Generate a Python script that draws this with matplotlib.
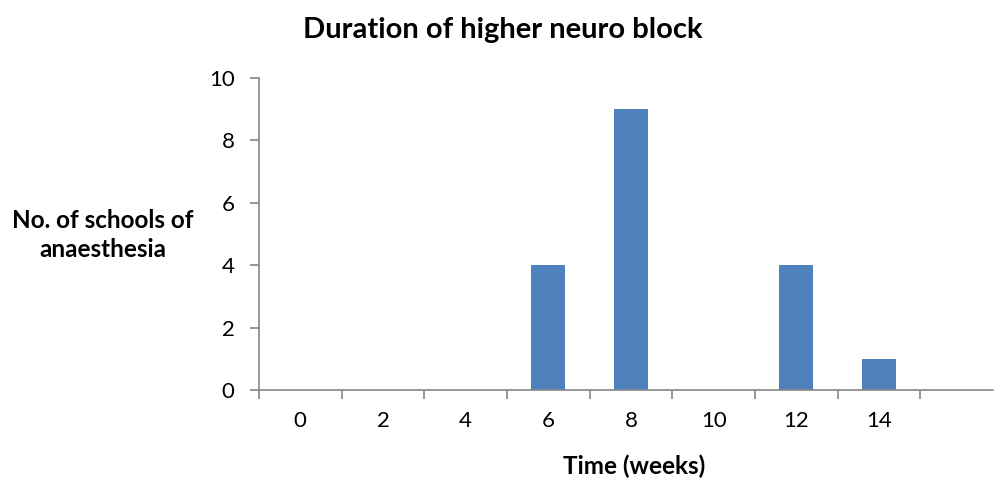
import matplotlib.pyplot as plt
import numpy as np

plt.rcParams['font.family'] = ['Lato', 'DejaVu Sans']

weeks = ['0', '2', '4', '6', '8', '10', '12', '14']
schools = [0, 0, 0, 4, 9, 0, 4, 1]

bar_color = '#4F81BD'
axis_color = '#868686'

fig = plt.figure(figsize=(9.96, 4.82), dpi=100)
ax = fig.add_axes([0.260, 0.191, 0.737, 0.647])

x = np.arange(len(weeks))
ax.bar(x, schools, width=0.41, color=bar_color)

ax.set_ylim(0, 10)
ax.set_yticks(range(0, 11, 2))
ax.set_xlim(-0.5, len(weeks) + 0.38)

# labels centred in the slots, tick marks on the slot borders
ax.set_xticks(x)
ax.set_xticklabels(weeks)
ax.set_xticks(np.arange(-0.5, len(weeks), 1), minor=True)
ax.tick_params(axis='x', which='major', length=0, pad=15, labelsize=16)
ax.tick_params(axis='x', which='minor', length=6.5, width=1.2, color=axis_color)
ax.tick_params(axis='y', length=6.5, width=1.2, color=axis_color, pad=11, labelsize=16)

for s in ['top', 'right']:
    ax.spines[s].set_visible(False)
for s in ['left', 'bottom']:
    ax.spines[s].set_color(axis_color)
    ax.spines[s].set_linewidth(1.2)

fig.text(503 / 996, 1 - 30 / 482, 'Duration of higher neuro block',
         ha='center', va='center', fontsize=21, fontweight='bold')
fig.text(103 / 996, 1 - 235 / 482, 'No. of schools of\nanaesthesia',
         ha='center', va='center', fontsize=17.5, fontweight='bold', linespacing=1.3)
fig.text(634 / 996, 1 - 466 / 482, 'Time (weeks)',
         ha='center', va='center', fontsize=17.5, fontweight='bold')

fig.savefig('out.png', dpi=100)
